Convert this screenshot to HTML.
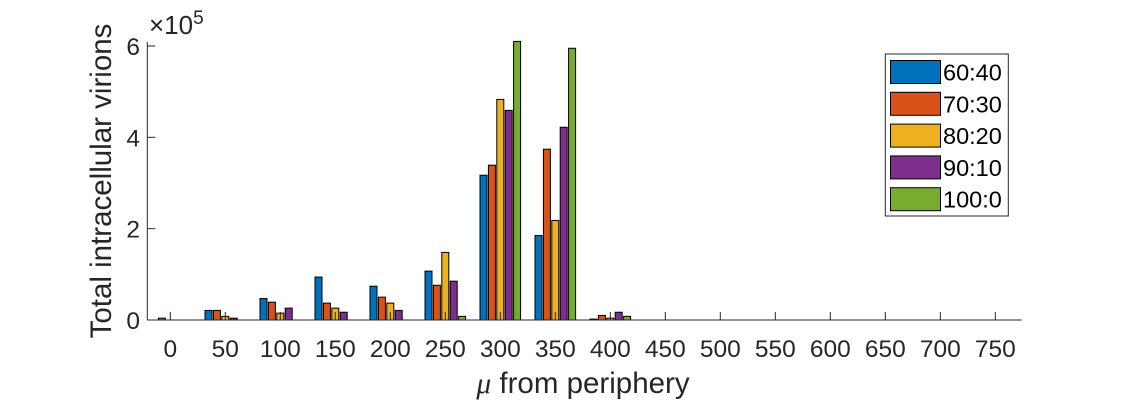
<!DOCTYPE html>
<html><head><meta charset="utf-8"><style>
body{margin:0;background:#fff;}
svg text{font-family:"Liberation Sans",sans-serif;}
</style></head><body>
<svg id="chart" width="1129" height="402" xmlns="http://www.w3.org/2000/svg">
<g id="bars"></g>
<g id="axes"></g>
<g id="legend"></g>
</svg>
<script>
const categories=[0,50,100,150,200,250,300,350,400,450,500,550,600,650,700,750];
const s6040=[0,0.21,0.47,0.94,0.74,1.07,3.17,1.85,0.02,0,0,0,0,0,0,0];
const s7030=[0.04,0.21,0.39,0.37,0.50,0.76,3.39,3.74,0.10,0,0,0,0,0,0,0];
const s8020=[0,0.08,0.15,0.26,0.37,1.48,4.83,2.18,0.04,0,0,0,0,0,0,0];
const s9010=[0,0.04,0.26,0.17,0.21,0.85,4.59,4.22,0.17,0,0,0,0,0,0,0];
const s1000=[0,0,0,0,0,0.08,6.10,5.95,0.08,0,0,0,0,0,0,0];
const seriesNames=["60:40","70:30","80:20","90:10","100:0"];
const yTicks=[0,2,4,6];
const series=[s6040,s7030,s8020,s9010,s1000];
const colors=["#0072BD","#D95319","#EDB120","#7E2F8E","#77AC30"];
const NS="http://www.w3.org/2000/svg";
const x0=170.3,dx=55,y0=320,ppu=45.67,axL=147.3,axR=1021.7,axT=42;
const xs=i=>x0+i*dx, ys=v=>y0-v*ppu;
function mk(tag,attrs,parent,txt){const e=document.createElementNS(NS,tag);for(const k in attrs)e.setAttribute(k,attrs[k]);if(txt!==undefined)e.textContent=txt;parent.appendChild(e);return e;}
const bars=document.getElementById('bars'),axes=document.getElementById('axes'),leg=document.getElementById('legend');
const stride=8.4,bw=7;
series.forEach((s,si)=>{s.forEach((v,i)=>{
 const cx=xs(i)+(si-2)*stride;
 const r=mk('rect',{x:cx-bw/2,y:ys(v),width:bw,height:Math.max(0,y0-ys(v)),fill:colors[si],stroke:'#000','stroke-width':1},bars);
 
 
});});
let l=mk('line',{x1:axL,y1:y0,x2:axR,y2:y0,stroke:'#262626','stroke-width':1},axes);

l=mk('line',{x1:axL,y1:y0,x2:axL,y2:axT,stroke:'#262626','stroke-width':1},axes);

categories.forEach((c,i)=>{
 mk('line',{x1:xs(i),y1:y0,x2:xs(i),y2:y0-8,stroke:'#262626'},axes);
 const t=mk('text',{x:xs(i),y:357,'text-anchor':'middle','font-size':24.5,fill:'#262626'},axes,c);
 
});
yTicks.forEach(v=>{
 mk('line',{x1:axL,y1:ys(v),x2:axL+8,y2:ys(v),stroke:'#262626'},axes);
 const t=mk('text',{x:140,y:ys(v)+9,'text-anchor':'end','font-size':24.5,fill:'#262626'},axes,v);
 
});
let t=mk('text',{x:149,y:34,'font-size':26,fill:'#262626'},axes,'×10');

mk('tspan',{dy:-10,'font-size':19},t,'5');
t=mk('text',{x:0,y:0,transform:'translate(111,181) rotate(-90)','text-anchor':'middle','font-size':29.5,fill:'#262626'},axes,'Total intracellular virions');

t=mk('text',{x:583,y:393,'text-anchor':'middle','font-size':29.5,fill:'#262626'},axes);

mk('tspan',{'font-style':'italic','font-family':'Liberation Serif'},t,'μ');
mk('tspan',{},t,' from periphery');
const lb=mk('rect',{x:885.3,y:54,width:123,height:162,fill:'#fff',stroke:'#262626'},leg);

seriesNames.forEach((n,i)=>{
 const y=60.5+i*31.8;
 const g=mk('g',{},leg);
 
 mk('rect',{x:890.5,y:y,width:50,height:23,fill:colors[i],stroke:'#000'},g);
 mk('text',{x:943,y:y+20,'font-size':23.5,fill:'#000'},g,n);
});
</script>
</body></html>
